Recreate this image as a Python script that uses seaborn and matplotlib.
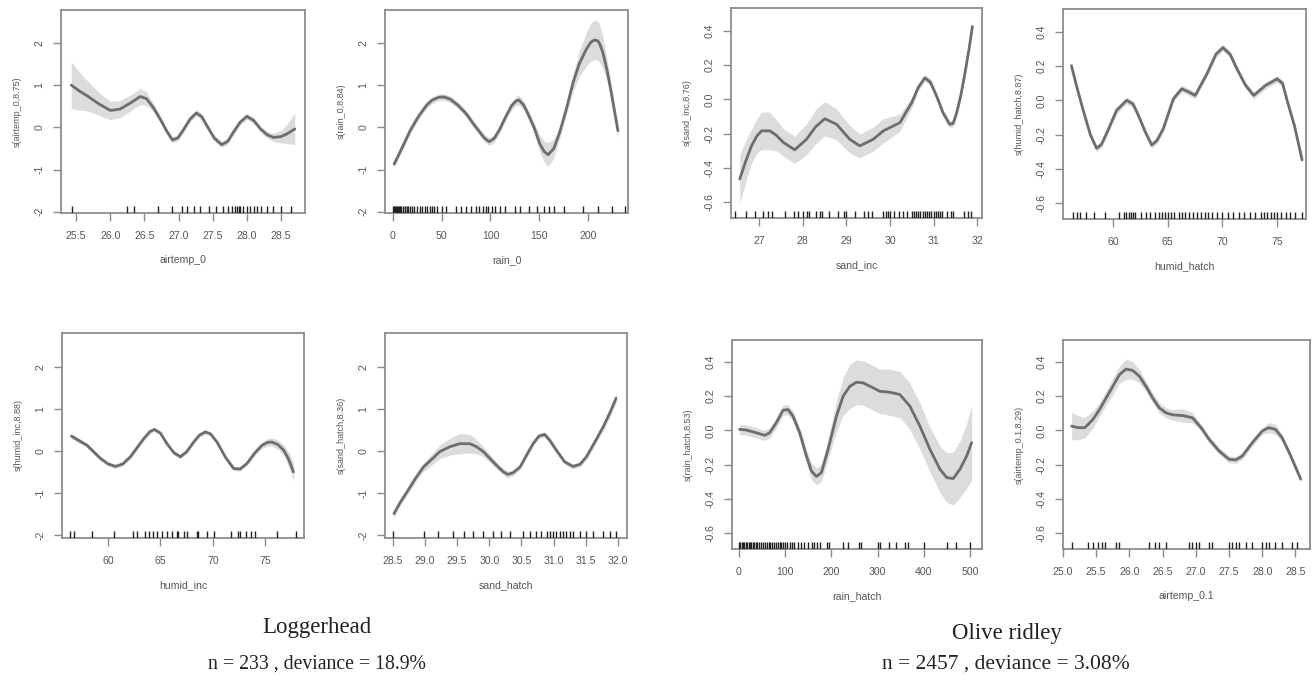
import numpy as np
import pandas as pd
import matplotlib
matplotlib.use("Agg")
import matplotlib.pyplot as plt
import seaborn as sns

# ---------------- data ----------------
# Panel 1: airtemp_0 (Loggerhead)
p1_x = [25.43, 25.55, 25.66, 25.83, 26.0, 26.14, 26.3, 26.44, 26.53, 26.63, 26.73, 26.83, 26.91, 26.99, 27.07, 27.17, 27.26, 27.34, 27.41, 27.52, 27.63, 27.72, 27.8, 27.9, 28.0, 28.1, 28.2, 28.3, 28.39, 28.5, 28.58, 28.7]
p1_y = [1.0, 0.86, 0.75, 0.56, 0.4, 0.43, 0.58, 0.73, 0.68, 0.47, 0.2, -0.1, -0.3, -0.25, -0.06, 0.2, 0.34, 0.25, 0.05, -0.25, -0.41, -0.33, -0.12, 0.12, 0.26, 0.16, -0.04, -0.18, -0.24, -0.22, -0.16, -0.04]
p1_se = [0.55, 0.45, 0.36, 0.27, 0.22, 0.2, 0.19, 0.19, 0.16, 0.1, 0.08, 0.07, 0.07, 0.07, 0.07, 0.07, 0.07, 0.07, 0.07, 0.07, 0.07, 0.07, 0.07, 0.07, 0.07, 0.07, 0.07, 0.08, 0.1, 0.15, 0.22, 0.37]
p1_rug = [25.44, 26.25, 26.35, 26.7, 26.9, 27.05, 27.12, 27.22, 27.32, 27.45, 27.55, 27.65, 27.72, 27.78, 27.82, 27.85, 27.88, 27.9, 27.95, 28.0, 28.05, 28.1, 28.15, 28.2, 28.3, 28.38, 28.5, 28.65]

# Panel 2: rain_0 (Loggerhead)
p2_x = [1.4, 10, 17.7, 26, 34.8, 40, 46.7, 52, 58.6, 67, 75.6, 82, 89.3, 94, 98.8, 104, 109.7, 115, 121.6, 126, 129.1, 134, 138.7, 145, 150.6, 155, 159.1, 165, 171.0, 178, 184.7, 191, 198.3, 203, 206.8, 210, 212, 215.3, 220, 223.8, 227, 230.7]
p2_y = [-0.87, -0.46, -0.08, 0.25, 0.53, 0.64, 0.71, 0.72, 0.67, 0.52, 0.31, 0.1, -0.12, -0.26, -0.34, -0.26, -0.04, 0.22, 0.51, 0.62, 0.65, 0.53, 0.31, -0.02, -0.39, -0.57, -0.65, -0.5, -0.12, 0.45, 1.06, 1.5, 1.85, 2.02, 2.07, 2.05, 1.98, 1.77, 1.3, 0.83, 0.4, -0.08]
p2_se = [0.08, 0.08, 0.08, 0.08, 0.08, 0.08, 0.08, 0.08, 0.08, 0.08, 0.08, 0.08, 0.08, 0.09, 0.09, 0.09, 0.09, 0.09, 0.1, 0.11, 0.12, 0.11, 0.1, 0.12, 0.2, 0.25, 0.28, 0.22, 0.14, 0.14, 0.2, 0.3, 0.4, 0.45, 0.47, 0.46, 0.45, 0.38, 0.25, 0.18, 0.18, 0.2]
p2_rug = [0, 1, 2, 3, 4, 5, 6, 7, 8, 10, 12, 13, 15, 16, 18, 20, 22, 25, 28, 30, 33, 35, 38, 40, 42, 45, 50, 55, 65, 70, 75, 80, 85, 88, 92, 95, 98, 102, 105, 110, 115, 125, 130, 140, 148, 155, 160, 165, 175, 195, 210, 225, 238]

# Panel 3: sand_inc (Olive ridley)
p3_x = [26.56, 26.7, 26.83, 26.95, 27.06, 27.25, 27.4, 27.56, 27.82, 28.09, 28.3, 28.51, 28.78, 29.08, 29.31, 29.62, 29.85, 30.23, 30.5, 30.65, 30.8, 30.93, 31.07, 31.22, 31.37, 31.45, 31.53, 31.63, 31.72, 31.81, 31.89]
p3_y = [-0.466, -0.36, -0.272, -0.215, -0.184, -0.184, -0.21, -0.252, -0.295, -0.233, -0.16, -0.113, -0.146, -0.233, -0.272, -0.233, -0.184, -0.136, -0.019, 0.07, 0.126, 0.1, 0.019, -0.08, -0.146, -0.14, -0.078, 0.03, 0.155, 0.29, 0.427]
p3_se = [0.14, 0.12, 0.1, 0.1, 0.11, 0.11, 0.09, 0.08, 0.08, 0.09, 0.1, 0.1, 0.09, 0.08, 0.07, 0.07, 0.07, 0.05, 0.03, 0.02, 0.02, 0.02, 0.02, 0.02, 0.02, 0.02, 0.02, 0.02, 0.02, 0.02, 0.02]
p3_rug = [26.45, 26.7, 26.9, 27.1, 27.2, 27.3, 27.6, 27.8, 27.9, 28.0, 28.1, 28.15, 28.3, 28.4, 28.45, 28.6, 28.8, 28.95, 29.0, 29.2, 29.4, 29.5, 29.6, 29.85, 29.9, 29.95, 30.0, 30.1, 30.2, 30.3, 30.4, 30.5, 30.55, 30.6, 30.65, 30.7, 30.75, 30.8, 30.85, 30.9, 30.95, 31.0, 31.05, 31.1, 31.15, 31.2, 31.3, 31.4, 31.45, 31.7, 31.8, 31.85]

# Panel 4: humid_hatch (Olive ridley)
p4_x = [56.17, 56.7, 57.25, 57.9, 58.47, 58.9, 59.39, 60.31, 61.22, 61.8, 62.3, 62.9, 63.52, 64.0, 64.59, 65.51, 66.27, 66.9, 67.5, 68.57, 69.4, 70.04, 70.7, 71.33, 72.1, 72.86, 73.93, 75.0, 75.5, 75.92, 76.6, 77.29]
p4_y = [0.203, 0.07, -0.058, -0.2, -0.28, -0.26, -0.193, -0.058, 0.0, -0.02, -0.087, -0.18, -0.261, -0.235, -0.164, 0.01, 0.068, 0.05, 0.029, 0.155, 0.27, 0.309, 0.27, 0.184, 0.09, 0.029, 0.087, 0.126, 0.1, 0.0, -0.15, -0.348]
p4_se = [0.02] * 32
p4_rug = [56.3, 56.7, 57.0, 57.5, 58.2, 59.2, 60.5, 61.0, 61.2, 61.4, 61.6, 61.8, 62.0, 62.5, 63.0, 63.4, 63.8, 64.2, 64.5, 64.7, 65.0, 65.3, 65.6, 66.0, 66.3, 66.6, 66.9, 67.3, 67.7, 68.0, 68.4, 68.7, 69.0, 69.5, 70.0, 70.5, 71.0, 71.5, 72.0, 72.5, 73.0, 73.5, 73.8, 74.1, 74.4, 74.7, 75.0, 75.4, 75.8, 76.2, 76.6, 77.3]

# Panel 5: humid_inc (Loggerhead)
p5_x = [56.5, 58.0, 59.27, 60.0, 60.7, 61.4, 62.13, 63.4, 64.0, 64.42, 65.0, 65.62, 66.3, 66.9, 67.5, 68.17, 68.7, 69.28, 69.8, 70.39, 71.2, 71.98, 72.6, 73.25, 74.0, 74.68, 75.2, 75.63, 76.2, 76.75, 77.2, 77.7]
p5_y = [0.35, 0.13, -0.18, -0.31, -0.37, -0.31, -0.14, 0.29, 0.46, 0.51, 0.42, 0.17, -0.05, -0.14, -0.02, 0.21, 0.37, 0.45, 0.4, 0.21, -0.15, -0.42, -0.43, -0.3, -0.05, 0.13, 0.2, 0.21, 0.15, 0.02, -0.18, -0.5]
p5_se = [0.06, 0.05, 0.05, 0.05, 0.05, 0.05, 0.05, 0.05, 0.05, 0.05, 0.05, 0.05, 0.05, 0.05, 0.05, 0.05, 0.05, 0.05, 0.05, 0.05, 0.05, 0.05, 0.05, 0.05, 0.06, 0.07, 0.09, 0.1, 0.11, 0.13, 0.17, 0.22]
p5_rug = [56.4, 56.7, 58.5, 60.6, 62.4, 62.8, 63.5, 63.9, 64.3, 64.7, 65.1, 65.6, 66.1, 66.6, 66.7, 67.2, 67.5, 68.5, 68.6, 69.4, 70.1, 71.7, 72.4, 72.6, 73.2, 73.6, 74.0, 76.1, 77.9]

# Panel 6: sand_hatch (Loggerhead)
p6_x = [28.52, 28.61, 28.72, 28.85, 28.98, 29.1, 29.23, 29.39, 29.54, 29.7, 29.8, 29.91, 30.01, 30.11, 30.22, 30.29, 30.37, 30.48, 30.58, 30.68, 30.77, 30.86, 30.94, 31.04, 31.17, 31.3, 31.41, 31.51, 31.64, 31.77, 31.87, 31.97]
p6_y = [-1.49, -1.24, -0.98, -0.66, -0.38, -0.21, -0.02, 0.1, 0.17, 0.17, 0.1, -0.02, -0.18, -0.34, -0.5, -0.56, -0.52, -0.38, -0.1, 0.17, 0.35, 0.39, 0.25, 0.02, -0.26, -0.37, -0.32, -0.14, 0.21, 0.57, 0.89, 1.25]
p6_se = [0.08, 0.08, 0.08, 0.09, 0.1, 0.13, 0.16, 0.2, 0.24, 0.22, 0.17, 0.12, 0.1, 0.08, 0.08, 0.08, 0.07, 0.06, 0.06, 0.06, 0.06, 0.06, 0.06, 0.06, 0.06, 0.06, 0.06, 0.06, 0.07, 0.08, 0.1, 0.12]
p6_rug = [28.5, 28.98, 29.21, 29.44, 29.6, 29.75, 29.91, 30.06, 30.19, 30.32, 30.53, 30.63, 30.73, 30.81, 30.89, 30.94, 30.99, 31.04, 31.1, 31.15, 31.2, 31.25, 31.3, 31.41, 31.51, 31.61, 31.77, 31.87, 31.97]

# Panel 7: rain_hatch (Olive ridley)
p7_x = [1.4, 15.9, 37.6, 55.6, 66.5, 80.9, 95.4, 106.2, 117, 131.5, 146, 156.8, 167.6, 178.5, 192.9, 211, 225.4, 240, 254.3, 268.8, 290.5, 304.9, 326.6, 348.3, 369.9, 391.6, 413.3, 435, 449.4, 463.9, 478.3, 492.8, 503.6]
p7_y = [0.006, 0.002, -0.014, -0.029, -0.014, 0.045, 0.118, 0.122, 0.083, -0.014, -0.15, -0.237, -0.27, -0.247, -0.111, 0.083, 0.2, 0.258, 0.282, 0.278, 0.249, 0.229, 0.223, 0.21, 0.142, 0.025, -0.111, -0.227, -0.276, -0.282, -0.227, -0.15, -0.072]
p7_se = [0.03, 0.03, 0.03, 0.03, 0.03, 0.03, 0.03, 0.03, 0.03, 0.03, 0.04, 0.05, 0.05, 0.05, 0.06, 0.09, 0.11, 0.13, 0.13, 0.13, 0.13, 0.13, 0.135, 0.135, 0.135, 0.135, 0.13, 0.135, 0.145, 0.155, 0.165, 0.19, 0.22]
p7_rug = [0, 3, 6, 9, 12, 15, 18, 21, 24, 27, 30, 33, 36, 40, 44, 48, 52, 56, 60, 64, 68, 72, 76, 80, 84, 88, 92, 96, 100, 105, 110, 115, 120, 128, 135, 140, 150, 158, 162, 170, 175, 190, 195, 225, 235, 260, 265, 300, 305, 325, 340, 360, 365, 400, 450, 470, 500]

# Panel 8: airtemp_0.1 (Olive ridley)
p8_x = [25.13, 25.23, 25.33, 25.45, 25.55, 25.65, 25.75, 25.85, 25.95, 26.05, 26.15, 26.25, 26.35, 26.45, 26.55, 26.65, 26.8, 26.95, 27.08, 27.2, 27.35, 27.5, 27.6, 27.7, 27.85, 28.0, 28.1, 28.2, 28.3, 28.43, 28.58]
p8_y = [0.025, 0.016, 0.016, 0.064, 0.122, 0.19, 0.258, 0.326, 0.359, 0.351, 0.317, 0.258, 0.19, 0.132, 0.103, 0.091, 0.087, 0.074, 0.016, -0.052, -0.12, -0.169, -0.173, -0.15, -0.072, -0.004, 0.016, 0.006, -0.043, -0.15, -0.285]
p8_se = [0.08, 0.07, 0.06, 0.05, 0.04, 0.04, 0.05, 0.05, 0.06, 0.05, 0.04, 0.03, 0.03, 0.03, 0.03, 0.03, 0.04, 0.03, 0.02, 0.02, 0.02, 0.02, 0.02, 0.02, 0.02, 0.02, 0.03, 0.03, 0.02, 0.02, 0.02]
p8_rug = [25.14, 25.38, 25.45, 25.53, 25.58, 25.63, 25.8, 25.85, 26.3, 26.38, 26.45, 26.55, 26.9, 26.95, 27.0, 27.05, 27.2, 27.25, 27.5, 27.55, 27.6, 27.65, 27.75, 27.85, 28.0, 28.05, 28.1, 28.2, 28.3, 28.45, 28.53]

# labels and ticks
x_labels = ["airtemp_0", "rain_0", "sand_inc", "humid_hatch", "humid_inc", "sand_hatch", "rain_hatch", "airtemp_0.1"]
y_labels = ["s(airtemp_0,8.75)", "s(rain_0,8.84)", "s(sand_inc,8.76)", "s(humid_hatch,8.87)",
            "s(humid_inc,8.88)", "s(sand_hatch,8.36)", "s(rain_hatch,8.53)", "s(airtemp_0.1,8.29)"]
x_ticks = [
    ["25.5", "26.0", "26.5", "27.0", "27.5", "28.0", "28.5"],
    ["0", "50", "100", "150", "200"],
    ["27", "28", "29", "30", "31", "32"],
    ["60", "65", "70", "75"],
    ["60", "65", "70", "75"],
    ["28.5", "29.0", "29.5", "30.0", "30.5", "31.0", "31.5", "32.0"],
    ["0", "100", "200", "300", "400", "500"],
    ["25.0", "25.5", "26.0", "26.5", "27.0", "27.5", "28.0", "28.5"],
]
y_ticks_big = ["-2", "-1", "0", "1", "2"]
y_ticks_small = ["-0.6", "-0.4", "-0.2", "0.0", "0.2", "0.4"]
species = ["Loggerhead", "Olive ridley"]
summaries = ["n = 233 , deviance = 18.9%", "n = 2457 , deviance = 3.08%"]

# ---------------- layout ----------------
sns.set_theme(style="white")
plt.rcParams["font.family"] = ["Liberation Sans", "DejaVu Sans"]

W, H = 1314, 675
fig = plt.figure(figsize=(W / 100, H / 100), dpi=100)
fig.patch.set_facecolor("white")

# pixel boxes: left, right, top, bottom
boxes = [(61, 305, 10, 213), (385, 628, 10, 213), (731, 982, 8, 218), (1063, 1306, 9, 219),
         (62, 304, 333, 538), (385, 627, 333, 538), (732, 982, 340, 549), (1063, 1310, 340, 549)]
xlims = [(25.28, 28.85), (-8, 241), (26.36, 32.11), (55.4, 77.65),
         (55.6, 78.7), (28.38, 32.14), (-15, 526), (25.0, 28.72)]
ylims = [(-2.03, 2.78), (-2.03, 2.78), (-0.694, 0.535), (-0.694, 0.535),
         (-2.07, 2.8), (-2.07, 2.8), (-0.694, 0.529), (-0.694, 0.529)]
data = [(p1_x, p1_y, p1_se, p1_rug), (p2_x, p2_y, p2_se, p2_rug), (p3_x, p3_y, p3_se, p3_rug),
        (p4_x, p4_y, p4_se, p4_rug), (p5_x, p5_y, p5_se, p5_rug), (p6_x, p6_y, p6_se, p6_rug),
        (p7_x, p7_y, p7_se, p7_rug), (p8_x, p8_y, p8_se, p8_rug)]
ytick_sets = [y_ticks_big, y_ticks_big, y_ticks_small, y_ticks_small,
              y_ticks_big, y_ticks_big, y_ticks_small, y_ticks_small]

frame_col = "#8c8c8c"
text_col = "#555555"
fs = 7.6

for i in range(8):
    l, r, t, b = boxes[i]
    ax = fig.add_axes([l / W, 1 - b / H, (r - l) / W, (b - t) / H])
    x, y, se, rug = data[i]
    df = pd.DataFrame({"x": x, "y": y, "lo": np.array(y) - np.array(se), "hi": np.array(y) + np.array(se)})
    ax.fill_between(df["x"], df["lo"], df["hi"], color="#dcdcdc", lw=0, zorder=1)
    sns.lineplot(data=df, x="x", y="y", ax=ax, color="#6d6d6d", lw=2.0, zorder=3)
    sns.rugplot(x=rug, ax=ax, height=0.035, color="#222222", lw=0.9, zorder=4)
    ax.set_xlim(*xlims[i])
    ax.set_ylim(*ylims[i])
    xt = [float(v) for v in x_ticks[i]]
    ax.set_xticks(xt)
    ax.set_xticklabels(x_ticks[i])
    yt = [float(v) for v in ytick_sets[i]]
    ax.set_yticks(yt)
    ax.set_yticklabels(ytick_sets[i], rotation=90, va="center")
    ax.tick_params(axis="both", direction="out", length=6, width=1.0, color=frame_col,
                   labelsize=fs, labelcolor=text_col)
    ax.tick_params(axis="x", pad=7, bottom=True)
    ax.tick_params(axis="y", pad=6, left=True)
    for s in ax.spines.values():
        s.set_color(frame_col)
        s.set_linewidth(1.3)
        s.set_visible(True)
    ax.set_xlabel(x_labels[i], fontsize=fs, color=text_col)
    ax.set_ylabel(y_labels[i], fontsize=fs * 0.85, color=text_col)
    ax.xaxis.set_label_coords(0.5, -42 / (b - t))
    ax.yaxis.set_label_coords(-39 / (r - l), 0.5)
    ax.grid(False)

serif = ["Liberation Serif", "DejaVu Serif"]
fig.text(317 / W, 1 - 627 / H, species[0], ha="center", va="center", fontsize=16.5, family=serif, color="#222222")
fig.text(317 / W, 1 - 664 / H, summaries[0], ha="center", va="center", fontsize=14.2, family=serif, color="#222222")
fig.text(1007 / W, 1 - 634 / H, species[1], ha="center", va="center", fontsize=16.5, family=serif, color="#222222")
fig.text(1006 / W, 1 - 664 / H, summaries[1], ha="center", va="center", fontsize=15.5, family=serif, color="#222222")

fig.savefig("out.png", dpi=100, facecolor="white")
